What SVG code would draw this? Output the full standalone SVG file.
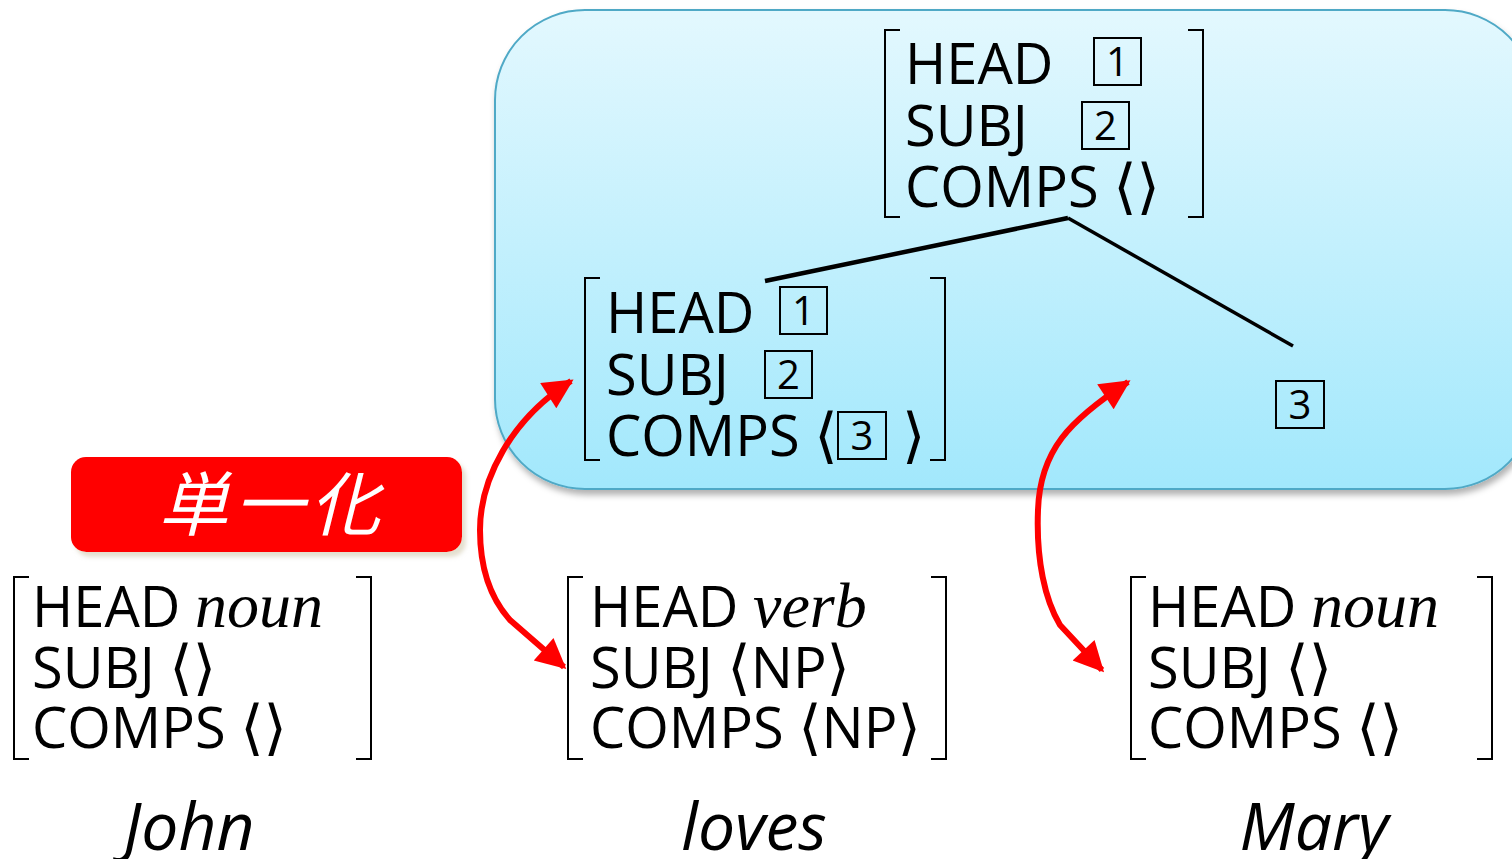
<svg xmlns="http://www.w3.org/2000/svg" width="1512" height="859" viewBox="0 0 1512 859">
<defs>
<linearGradient id="blueg" x1="0" y1="0" x2="0" y2="1">
<stop offset="0" stop-color="#e3f8fe"/>
<stop offset="1" stop-color="#a2e8fc"/>
</linearGradient>
<filter id="sh" x="-5%" y="-5%" width="110%" height="115%">
<feDropShadow dx="2" dy="5" stdDeviation="3" flood-color="#000" flood-opacity="0.3"/>
</filter>
<filter id="sh2" x="-5%" y="-5%" width="110%" height="120%">
<feDropShadow dx="4" dy="5" stdDeviation="2" flood-color="#c8c0a0" flood-opacity="0.5"/>
</filter>
<marker id="ah" viewBox="0 0 10 10" refX="9" refY="5" markerWidth="5.5" markerHeight="5" orient="auto-start-reverse" markerUnits="strokeWidth">
<path d="M0,0 L10,5 L0,10 z" fill="#ff0000"/>
</marker>
<style>
.t{font-family:"Open Sans","Noto Sans",sans-serif;font-size:56px;fill:#000}
.it{font-family:"Liberation Serif",serif;font-style:italic;font-size:64px}
.ang{font-family:"DejaVu Sans",sans-serif;font-size:60px;font-weight:normal}
.num{font-family:"Open Sans","Noto Sans",sans-serif;font-size:40px;fill:#000;text-anchor:middle}
.br{fill:none;stroke:#000;stroke-width:2}
.bx{fill:none;stroke:#000;stroke-width:2}
.lbl{font-family:"Open Sans","Noto Sans",sans-serif;font-style:italic;font-size:66px;fill:#000}
.arr{fill:none;stroke:#ff0000;stroke-width:6}
</style>
</defs>

<g id="unified-box">
<rect x="495" y="10" width="1040" height="479" rx="90" fill="url(#blueg)" stroke="#4fa9c6" stroke-width="2" filter="url(#sh)"/>
</g>

<g id="avm-top">
<path class="br" d="M900,30 H885 V217 H900 M1188,30 H1203 V217 H1188"/>
<text class="t" x="905" y="84">HEAD</text>
<rect class="bx" x="1094" y="38" width="47" height="47"/>
<text class="num" x="1117.5" y="76">1</text>
<text class="t" x="905" y="146">SUBJ</text>
<rect class="bx" x="1082" y="102" width="47" height="47"/>
<text class="num" x="1105.5" y="140">2</text>
<text class="t" x="905" y="207">COMPS <tspan class="ang">⟨⟩</tspan></text>
</g>

<g id="avm-mid">
<path class="br" d="M600,278 H585 V460 H600 M930,278 H945 V460 H930"/>
<text class="t" x="606" y="333">HEAD</text>
<rect class="bx" x="780" y="287" width="47" height="47"/>
<text class="num" x="803.5" y="325">1</text>
<text class="t" x="606" y="395">SUBJ</text>
<rect class="bx" x="765" y="351" width="47" height="47"/>
<text class="num" x="788.5" y="389">2</text>
<text class="t" x="606" y="456">COMPS <tspan class="ang">⟨</tspan></text>
<rect class="bx" x="838" y="412" width="48" height="47"/>
<text class="num" x="862" y="450">3</text>
<text class="t ang" x="902" y="456">⟩</text>
</g>

<g id="tag3">
<rect class="bx" x="1276" y="381" width="48" height="47"/>
<text class="num" x="1300" y="419">3</text>
</g>

<g id="unify-label">
<rect x="71" y="457" width="391" height="95" rx="15" fill="#ff0000" filter="url(#sh2)"/>
<text x="272" y="530" text-anchor="middle" font-family="'Noto Sans CJK JP','Noto Sans CJK SC',sans-serif" font-style="italic" font-size="70" letter-spacing="6" fill="#ffffff">単一化</text>
</g>

<g id="avm-john">
<path class="br" d="M29,577 H14 V759 H29 M356,577 H371 V759 H356"/>
<text class="t" x="32" y="627">HEAD <tspan class="it">noun</tspan></text>
<text class="t" x="32" y="688">SUBJ <tspan class="ang">⟨⟩</tspan></text>
<text class="t" x="32" y="748">COMPS <tspan class="ang">⟨⟩</tspan></text>
</g>

<g id="avm-loves">
<path class="br" d="M583,577 H568 V759 H583 M931,577 H946 V759 H931"/>
<text class="t" x="590" y="627">HEAD <tspan class="it">verb</tspan></text>
<text class="t" x="590" y="688">SUBJ <tspan class="ang">⟨</tspan>NP<tspan class="ang">⟩</tspan></text>
<text class="t" x="590" y="748">COMPS <tspan class="ang">⟨</tspan>NP<tspan class="ang">⟩</tspan></text>
</g>

<g id="avm-mary">
<path class="br" d="M1146,577 H1131 V759 H1146 M1477,577 H1492 V759 H1477"/>
<text class="t" x="1148" y="627">HEAD <tspan class="it">noun</tspan></text>
<text class="t" x="1148" y="688">SUBJ <tspan class="ang">⟨⟩</tspan></text>
<text class="t" x="1148" y="748">COMPS <tspan class="ang">⟨⟩</tspan></text>
</g>

<g id="words">
<text class="lbl" x="189" y="850" text-anchor="middle">John</text>
<text class="lbl" x="754" y="850" text-anchor="middle">loves</text>
<text class="lbl" x="1314" y="850" text-anchor="middle">Mary</text>
</g>

<g id="connectors">
<path d="M765,281 L1068,218" stroke="#000" stroke-width="4.5" fill="none"/>
<path d="M1068,218 L1293,346" stroke="#000" stroke-width="3.5" fill="none"/>
<path class="arr" d="M571,381 C510,420 480,480 480,530 C480,570 492,600 510,620 L564,667" marker-start="url(#ah)" marker-end="url(#ah)"/>
<path class="arr" d="M1128,382 C1070,420 1040,450 1038,510 C1036,560 1045,600 1060,625 L1102,670" marker-start="url(#ah)" marker-end="url(#ah)"/>
</g>
</svg>
